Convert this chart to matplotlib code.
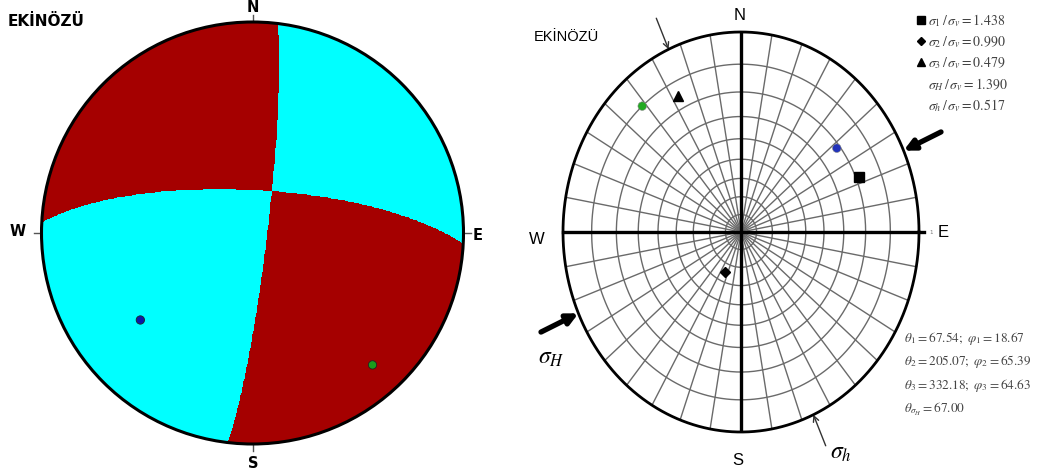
import numpy as np
import matplotlib.pyplot as plt
from matplotlib.colors import ListedColormap
from matplotlib.patches import Circle, FancyArrowPatch

plt.rcParams['mathtext.fontset'] = 'stix'

# left net: nodal planes (strike, dip; right hand rule)
plane_strike = [6.8, 273.0]
plane_dip = [84.5, 73.4]
# axes plotted on left net (trend, plunge)
left_trend = [232.2, 137.7]
left_plunge = [33.2, 16.6]
left_cols = ['#0b1aa8', '#1c9c1c']

# right net: principal stress markers (trend, plunge as plotted)
sig_trend = [67.54, 205.07, 332.5]
sig_plunge = [18.67, 65.39, 15.0]
sig_mark = ['s', 'D', '^']
dot_trend = [318.6, 52.1]
dot_plunge = [10.0, 21.4]
dot_cols = ['#22aa22', '#2233bb']
sH_az = 66.0
sh_az = 156.0

ratio_marks = ['s', 'D', '^', None, None]
ratio_labels = [r'$\sigma_1\,/\,\sigma_v=1.438$',
                r'$\sigma_2\,/\,\sigma_v=0.990$',
                r'$\sigma_3\,/\,\sigma_v=0.479$',
                r'$\sigma_H\,/\,\sigma_v=1.390$',
                r'$\sigma_h\,/\,\sigma_v=0.517$']
angle_labels = [r'$\theta_1=67.54;\ \varphi_1=18.67$',
                r'$\theta_2=205.07;\ \varphi_2=65.39$',
                r'$\theta_3=332.18;\ \varphi_3=64.63$',
                r'$\theta_{\sigma_H}=67.00$']

W, H = 1042, 477
fig = plt.figure(figsize=(W / 100, H / 100), dpi=100)


def fr(px, py):
    return px / W, 1 - py / H


def stereo(trend, plunge):
    r = np.tan(np.radians(90 - np.asarray(plunge)) / 2)
    t = np.radians(trend)
    return r * np.sin(t), r * np.cos(t)


def equal_area(trend, plunge):
    r = np.sqrt(2) * np.sin(np.radians(90 - np.asarray(plunge)) / 2)
    t = np.radians(trend)
    return r * np.sin(t), r * np.cos(t)


# ---------------- left: beach ball ----------------
ax1 = fig.add_axes([41 / W, 1 - 445 / H, 423 / W, 422 / H])
ax1.set_xlim(-1, 1)
ax1.set_ylim(-1, 1)
ax1.axis('off')

g = np.linspace(-1, 1, 700)
X, Y = np.meshgrid(g, g)
R = np.clip(np.hypot(X, Y), 0, 1)
pl = np.radians(90 - 2 * np.degrees(np.arcsin(R / np.sqrt(2))))
tr = np.arctan2(X, Y)
v = np.stack([np.cos(pl) * np.sin(tr), np.cos(pl) * np.cos(tr), np.sin(pl)])


def pole(strike, dip):
    d = np.radians(strike + 90)
    dp = np.radians(dip)
    return np.array([-np.sin(dp) * np.sin(d), -np.sin(dp) * np.cos(d), np.cos(dp)])


n1 = pole(plane_strike[0], plane_dip[0])
n2 = pole(plane_strike[1], plane_dip[1])
prod = np.tensordot(n1, v, 1) * np.tensordot(n2, v, 1)
ref = np.array([np.sin(np.radians(315)), np.cos(np.radians(315)), 0.05])
sgn = np.sign(n1 @ ref * (n2 @ ref))
cls = (np.sign(prod) == sgn).astype(float)
im = ax1.imshow(cls, extent=(-1, 1, -1, 1), origin='lower',
                cmap=ListedColormap(['#00ffff', '#a50000']), vmin=0, vmax=1,
                interpolation='nearest')
clip = Circle((0, 0), 1, transform=ax1.transData)
im.set_clip_path(clip)
ax1.add_patch(Circle((0, 0), 1, fill=False, ec='black', lw=2.2, zorder=5, clip_on=False))

lx, ly = equal_area(left_trend, left_plunge)
ax1.scatter(lx, ly, s=36, c=left_cols, edgecolors='#222222', linewidths=0.6, zorder=6)

for a in [0, 90, 180, 270]:
    s, c = np.sin(np.radians(a)), np.cos(np.radians(a))
    ax1.plot([1.005 * s, 1.035 * s], [1.005 * c, 1.035 * c], color='#555555', lw=1, clip_on=False)

fig.text(*fr(8, 22), 'EKİNÖZÜ', fontsize=11, fontweight='bold', ha='left', va='center')
for lab, px, py in [('N', 253, 8), ('W', 18, 232), ('E', 478, 236), ('S', 253, 464)]:
    fig.text(*fr(px, py), lab, fontsize=10.5, fontweight='bold', ha='center', va='center')

# ---------------- right: polar net ----------------
ax2 = fig.add_axes([563 / W, 1 - 433 / H, 356 / W, 400 / H])
ax2.set_xlim(-1, 1)
ax2.set_ylim(-1, 1)
ax2.axis('off')

th = np.linspace(0, 2 * np.pi, 400)
for dip in range(10, 90, 10):
    r = np.tan(np.radians(90 - dip) / 2)
    ax2.plot(r * np.cos(th), r * np.sin(th), color='#6a6a6a', lw=1)
for az in range(0, 360, 10):
    a = np.radians(az)
    ax2.plot([0, np.sin(a)], [0, np.cos(a)], color='#6a6a6a', lw=1)
ax2.plot(np.cos(th), np.sin(th), color='black', lw=2, clip_on=False)
ax2.plot([0, 0], [-1, 1], color='black', lw=2.4)
ax2.plot([-1, 1.03], [0, 0], color='black', lw=2.4, clip_on=False)

for t, p, m in zip(sig_trend, sig_plunge, sig_mark):
    x, y = stereo(t, p)
    ax2.plot(x, y, marker=m, color='black', ms=7 if m != 'D' else 5, ls='none', zorder=6)
dx, dy = stereo(dot_trend, dot_plunge)
ax2.scatter(dx, dy, s=38, c=dot_cols, edgecolors='#888888', linewidths=0.4, zorder=6)

# stress direction arrows
for az in [sH_az, sH_az + 180]:
    s, c = np.sin(np.radians(az)), np.cos(np.radians(az))
    ax2.add_patch(FancyArrowPatch((1.23 * s, 1.23 * c), (1.0 * s, 1.0 * c),
                                  arrowstyle='-|>', mutation_scale=16, lw=3.8,
                                  color='black', clip_on=False, shrinkA=0, shrinkB=0))
for az in [sh_az, sh_az + 180]:
    s, c = np.sin(np.radians(az)), np.cos(np.radians(az))
    ax2.add_patch(FancyArrowPatch((1.17 * s, 1.17 * c), (1.0 * s, 1.0 * c),
                                  arrowstyle='->', mutation_scale=10, lw=1,
                                  color='#333333', clip_on=False, shrinkA=0, shrinkB=0))

fig.text(*fr(534, 37), 'EKİNÖZÜ', fontsize=10.5, family='Liberation Sans', ha='left', va='center')
for lab, px, py in [('N', 740, 16), ('W', 537, 240), ('E', 943, 233), ('S', 738, 461)]:
    fig.text(*fr(px, py), lab, fontsize=12, family='Liberation Sans', ha='center', va='center')
fig.text(*fr(931, 232), '1', fontsize=4, color='#777777', ha='center', va='center')
fig.text(*fr(538, 357), r'$\sigma_H$', fontsize=17, ha='left', va='center')
fig.text(*fr(830, 452), r'$\sigma_h$', fontsize=17, ha='left', va='center')

ys = [21, 42, 63, 85, 106]
for m, lab, py in zip(ratio_marks, ratio_labels, ys):
    if m:
        fig.lines.append(plt.Line2D([921 / W], [1 - py / H], marker=m, color='black',
                                    ms=6 if m != 'D' else 4.5, transform=fig.transFigure))
    fig.text(*fr(928, py), lab, fontsize=10, color='#444444', ha='left', va='center')
for lab, py in zip(angle_labels, [339, 362, 386, 409]):
    fig.text(*fr(904, py), lab, fontsize=9.5, color='#444444', ha='left', va='center')

fig.savefig('out.png', dpi=100, facecolor='white')
